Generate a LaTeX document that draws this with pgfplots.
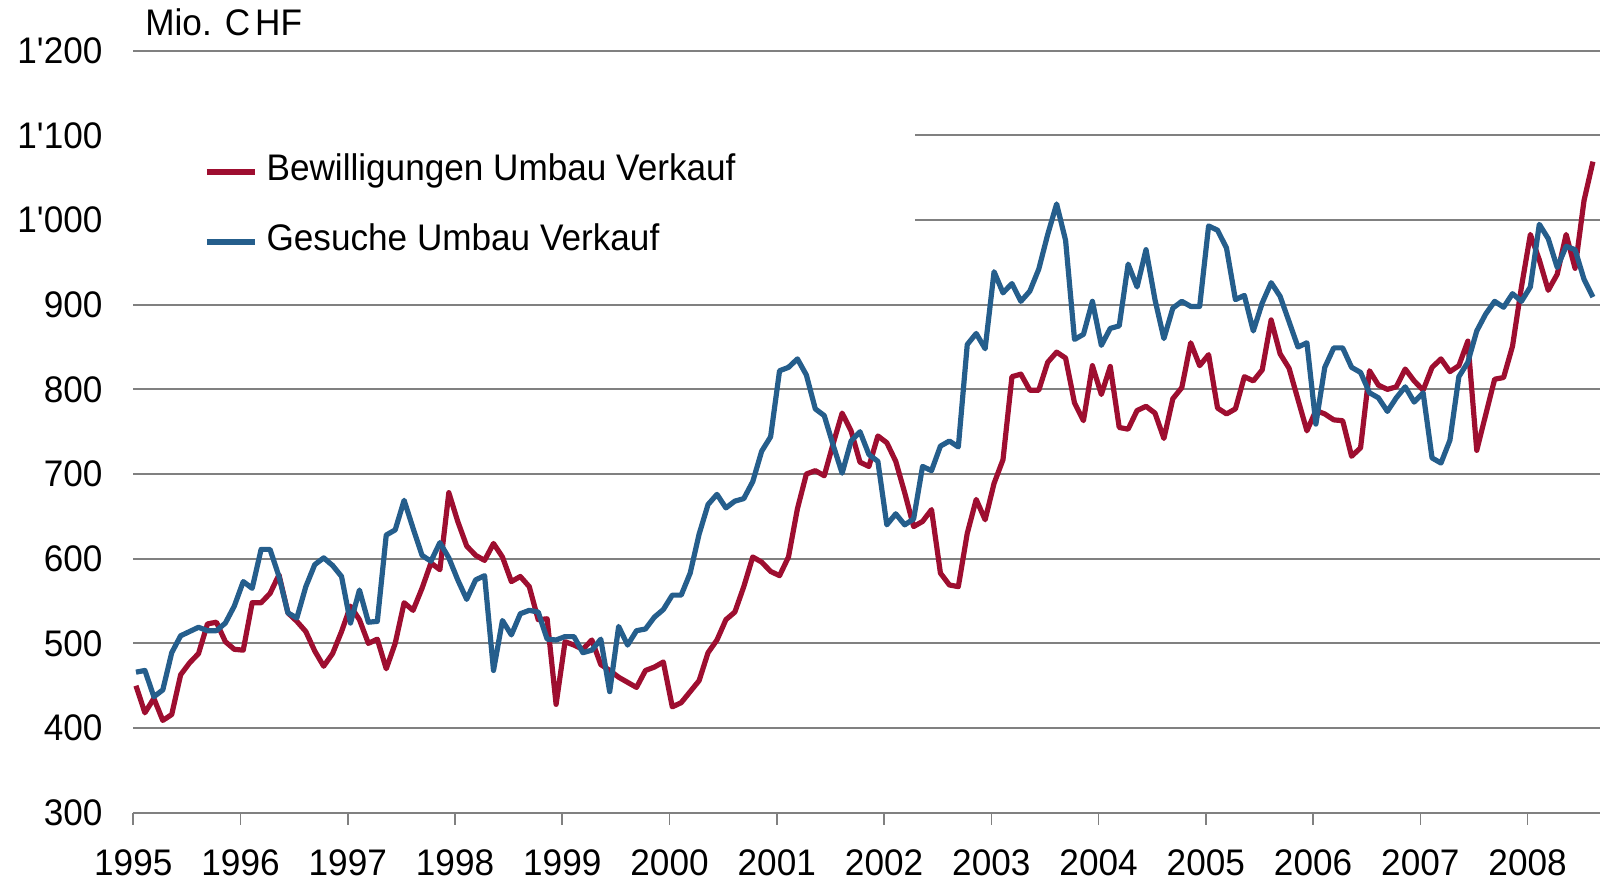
\documentclass[border=0pt]{standalone}
\usepackage{pgfplots}
\pgfplotsset{compat=1.18}
\usepackage{pgfplotstable}
\usepackage{fontspec}
\setmainfont{Liberation Sans}
\newfontfamily\cf{Liberation Sans}[FakeStretch=0.95]
\newcommand{\chartfont}{\cf\fontsize{18.5}{22}\selectfont}

\definecolor{bred}{RGB}{158,14,48}
\definecolor{bblue}{RGB}{37,94,140}
\definecolor{gridgray}{RGB}{128,128,128}

% monthly values, m = months since Jan 1995
\pgfplotstableread{
m bew ges
0 450 466
1 418 468
2 435 437
3 409 445
4 416 489
5 463 509
6 477 514
7 488 519
8 523 515
9 525 515
10 502 524
11 493 544
12 492 573
13 548 565
14 548 611
15 559 611
16 581 579
17 536 536
18 526 530
19 514 567
20 491 593
21 473 601
22 488 592
23 514 579
24 544 524
25 528 563
26 500 525
27 505 526
28 470 628
29 500 634
30 548 669
31 539 636
32 565 604
33 595 597
34 587 619
35 678 601
36 644 575
37 615 552
38 604 575
39 598 580
40 618 468
41 602 527
42 573 510
43 579 535
44 567 539
45 528 537
46 529 505
47 428 504
48 502 508
49 498 508
50 493 489
51 504 492
52 475 505
53 468 443
54 460 520
55 454 498
56 448 515
57 468 517
58 472 531
59 478 540
60 425 557
61 430 557
62 443 583
63 456 629
64 489 664
65 504 676
66 528 660
67 537 668
68 567 671
69 602 691
70 596 727
71 585 744
72 580 822
73 602 826
74 659 836
75 700 817
76 704 777
77 698 769
78 736 734
79 772 701
80 751 739
81 714 750
82 709 723
83 745 715
84 737 640
85 715 653
86 678 640
87 638 647
88 644 709
89 658 704
90 583 733
91 569 739
92 567 732
93 630 853
94 670 866
95 646 848
96 689 939
97 717 914
98 815 925
99 818 904
100 799 916
101 799 942
102 832 983
103 844 1019
104 837 976
105 784 859
106 763 865
107 828 904
108 794 852
109 827 872
110 755 875
111 753 948
112 775 921
113 780 965
114 772 906
115 742 860
116 789 896
117 802 904
118 855 898
119 828 898
120 841 993
121 778 988
122 771 967
123 777 906
124 815 911
125 810 869
126 823 902
127 882 926
128 842 910
129 825 880
130 788 850
131 751 855
132 775 759
133 771 826
134 764 849
135 763 849
136 721 826
137 731 820
138 822 796
139 805 790
140 800 774
141 803 790
142 824 803
143 810 785
144 799 796
145 826 719
146 836 713
147 821 740
148 828 815
149 857 832
150 728 869
151 770 889
152 812 904
153 814 897
154 851 913
155 921 904
156 983 921
157 953 995
158 917 978
159 936 944
160 983 969
161 943 965
162 1023 930
163 1069 909
}\data

\begin{document}
\begin{tikzpicture}
\useasboundingbox (-66.65pt,-36.15pt) rectangle (733.85pt,406.35pt);
\begin{axis}[
    at={(0pt,0pt)}, anchor=south west,
    scale only axis, width=733.35pt, height=381pt,
    xmin=1995, xmax=2008.674, ymin=300, ymax=1200,
    clip=false,
    xtick={1995,...,2008},
    xticklabels={1995,1996,1997,1998,1999,2000,2001,2002,2003,2004,2005,2006,2007,2008},
    ytick={300,400,...,1200},
    yticklabels={300,400,500,600,700,800,900,1\textquotesingle000,1\textquotesingle100,1\textquotesingle200},
    axis lines*=left,
    x axis line style={-, draw=gridgray, line width=1pt},
    y axis line style={draw=none},
    ymajorgrids,
    grid style={draw=gridgray, line width=1pt},
    tick align=outside, major tick length=6pt,
    xtick style={draw=gridgray, line width=0.8pt},
    ytick style={draw=none},
    ticklabel style={font=\chartfont, inner sep=0pt},
    xticklabel style={anchor=north, yshift=-12.5pt},
    yticklabel style={anchor=east, xshift=-9.2pt},
    legend style={at={(0.0482,0.8618)}, anchor=north west, draw=none, fill=none,
        inner sep=0pt, row sep=19.5pt,
        nodes={inner sep=0pt, text height=12pt, text depth=3.5pt, font=\chartfont},
        /tikz/every odd column/.append style={column sep=4.5pt}},
    legend cell align=left,
    legend image code/.code={\draw[#1] (0pt,0pt) -- (24pt,0pt);},
]
\fill[white] (1995,960) rectangle (2002.288,1140);
\addplot[bred, line width=2.6pt, line join=round] table[x expr=1995+(\thisrow{m}+0.3)/12, y=bew] {\data};
\addplot[bblue, line width=2.6pt, line join=round] table[x expr=1995+(\thisrow{m}+0.3)/12, y=ges] {\data};
\legend{Bewilligungen Umbau Verkauf, Gesuche Umbau Verkauf}
\node[anchor=base west, inner sep=0pt, font=\chartfont]
    at (rel axis cs:0,1) [xshift=5.85pt, yshift=7.85pt] {Mio. C\kern2.5pt HF};
\end{axis}
\end{tikzpicture}
\end{document}
